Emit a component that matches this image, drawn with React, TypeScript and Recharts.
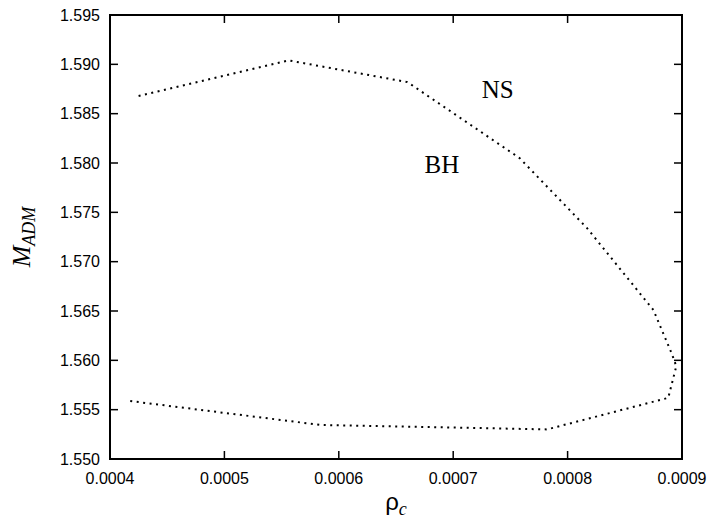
import { LineChart, Line, XAxis, YAxis, ReferenceArea, ReferenceDot } from 'recharts';

// central density vs ADM mass along the NS / BH boundary (path order matters)
const rhoC = [0.000425, 0.000556, 0.00066, 0.000758, 0.000817, 0.000875, 0.000891, 0.000895, 0.000888, 0.000782, 0.000584, 0.000416];
const mAdm = [1.5868, 1.5904, 1.5882, 1.5805, 1.5734, 1.5651, 1.5607, 1.5594, 1.5562, 1.553, 1.55345, 1.5559];

const xTicks = [0.0004, 0.0005, 0.0006, 0.0007, 0.0008, 0.0009];
const yTicks = [1.55, 1.555, 1.56, 1.565, 1.57, 1.575, 1.58, 1.585, 1.59, 1.595];

const regionLabels = [
  { text: 'NS', rho: 0.000725, m: 1.5875 },
  { text: 'BH', rho: 0.000675, m: 1.5799 },
];

const data = rhoC.map((rho, i) => ({ rho, m: mAdm[i] }));

const W = 713;
const H = 527;
const FRAME = { left: 110, right: 682, top: 15, bottom: 459 };
const TICK_LEN = 8;
const SANS = '"Liberation Sans", Arial, sans-serif';
const SERIF = '"Liberation Serif", "Times New Roman", serif';

const XTick = ({ x, y, payload }: any) => (
  <g>
    <line x1={x} x2={x} y1={FRAME.bottom} y2={FRAME.bottom - TICK_LEN} stroke="#000" strokeWidth={1.5} />
    <line x1={x} x2={x} y1={FRAME.top} y2={FRAME.top + TICK_LEN} stroke="#000" strokeWidth={1.5} />
    <text x={x} y={y} dy="0.71em" textAnchor="middle" fontFamily={SANS} fontSize={16} fill="#000">
      {payload.value.toFixed(4)}
    </text>
  </g>
);

const YTick = ({ x, y, payload }: any) => (
  <g>
    <line x1={FRAME.left} x2={FRAME.left + TICK_LEN} y1={y} y2={y} stroke="#000" strokeWidth={1.5} />
    <line x1={FRAME.right - TICK_LEN} x2={FRAME.right} y1={y} y2={y} stroke="#000" strokeWidth={1.5} />
    <text x={x} y={y} dy="0.36em" textAnchor="end" fontFamily={SANS} fontSize={16} fill="#000">
      {payload.value.toFixed(3)}
    </text>
  </g>
);

const RhoLabel = () => (
  <text x={(FRAME.left + FRAME.right) / 2} y={510} textAnchor="middle" fill="#000">
    <tspan fontFamily={SANS} fontSize={24}>ρ</tspan>
    <tspan fontFamily={SERIF} fontStyle="italic" fontSize={18} dy={5}>c</tspan>
  </text>
);

const MassLabel = () => {
  const cx = 30;
  const cy = (FRAME.top + FRAME.bottom) / 2;
  return (
    <text x={cx} y={cy} transform={`rotate(-90, ${cx}, ${cy})`} textAnchor="middle" fill="#000" fontFamily={SERIF} fontStyle="italic">
      <tspan fontSize={26}>M</tspan>
      <tspan fontSize={18} dy={5}>ADM</tspan>
    </text>
  );
};

export default function App() {
  return (
    <div style={{ position: 'absolute', left: 0, top: 0, width: W, height: H, background: '#fff' }}>
      <LineChart
        width={W}
        height={H}
        data={data}
        margin={{ top: FRAME.top, right: W - FRAME.right, bottom: 0, left: 0 }}
      >
        <XAxis
          dataKey="rho"
          type="number"
          domain={[0.0004, 0.0009]}
          ticks={xTicks}
          height={H - FRAME.bottom}
          axisLine={false}
          tickLine={false}
          tickSize={0}
          tickMargin={14}
          tick={(props: any) => <XTick {...props} />}
          label={{ content: () => <RhoLabel /> }}
        />
        <YAxis
          dataKey="m"
          type="number"
          domain={[1.55, 1.595]}
          ticks={yTicks}
          width={FRAME.left}
          axisLine={false}
          tickLine={false}
          tickSize={0}
          tickMargin={10}
          tick={(props: any) => <YTick {...props} />}
          label={{ content: () => <MassLabel /> }}
        />
        <ReferenceArea x1={0.0004} x2={0.0009} y1={1.55} y2={1.595} fill="none" stroke="#000" strokeWidth={2} />
        {regionLabels.map((l) => (
          <ReferenceDot
            key={l.text}
            x={l.rho}
            y={l.m}
            r={0}
            fill="none"
            stroke="none"
            label={{ value: l.text, position: 'right', offset: 0, fontFamily: SERIF, fontSize: 25, fill: '#000' }}
          />
        ))}
        <Line
          dataKey="m"
          type="linear"
          stroke="#000"
          strokeWidth={2}
          strokeDasharray="2 4.5"
          dot={false}
          activeDot={false}
          isAnimationActive={false}
        />
      </LineChart>
    </div>
  );
}
